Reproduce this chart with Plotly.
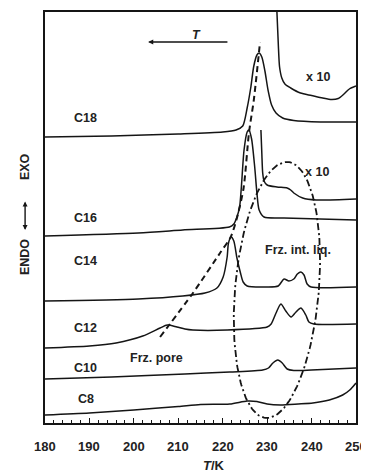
import numpy as np
import plotly.graph_objects as go

# ---- data (T in K, signal in arbitrary offset units) ----
c18_T = [180, 195, 210, 220, 223, 224.5, 225.5, 226.3, 227.0, 227.7, 228.2, 228.8, 229.5, 230.2, 231.0, 232.0, 233.5, 236, 242, 250]
c18_y = [286, 287, 289, 291, 293, 297, 315, 335, 357, 368, 370, 366, 352, 333, 318, 310, 305, 302.5, 301, 301]

c18x_T = [232.2, 232.5, 232.8, 233.3, 234.0, 235.3, 237.5, 240, 242.5, 244.5, 246, 247.3, 248.5, 250]
c18x_y = [411, 380, 356, 345, 339, 335, 330, 327.5, 325, 323.5, 324.5, 329, 334, 337]

c16_T = [180, 201, 211, 221.5, 222.5, 223.2, 223.8, 224.2, 224.8, 225.5, 225.9, 226.5, 227.2, 227.7, 228.2, 229.3, 233.8, 250]
c16_y = [187, 190, 193, 196, 199, 206, 216, 236, 273, 291, 293, 284, 256, 230, 213, 206, 205, 203]

c16x_T = [228.6, 228.8, 229.0, 229.3, 230.0, 232.2, 234.5, 235.3, 236, 238, 241, 250]
c16x_y = [293, 270, 250, 242, 238, 236, 235, 233, 230, 225, 223, 224]

c14_T = [180, 201, 211, 216, 218.7, 220.1, 221.0, 221.3, 221.9, 222.5, 223.2, 224.0, 224.6, 225.5, 230, 232.5, 233.8, 234.9, 236, 236.8, 237.6, 238.3, 239, 239.9, 250]
c14_y = [122, 124, 127, 130, 135, 146, 166, 180, 186, 182, 165, 150, 141, 137, 136, 137, 144, 142, 144, 149, 151, 148, 139, 136, 136]

c12_T = [180, 190, 196, 202, 205.9, 207.5, 209.7, 211.5, 213.3, 221, 230, 230.9, 232, 233.1, 234.2, 235.4, 236.5, 237.6, 238.7, 239.4, 240.5, 250]
c12_y = [75, 77, 80, 87, 95, 98, 96, 94, 93, 93, 96, 99, 110, 119, 112, 106, 111, 115, 108, 101, 99, 99]

c10_T = [180, 195, 211.5, 221.6, 229, 230.3, 231.3, 232.4, 233.4, 234.5, 236, 240, 250]
c10_y = [44, 46, 49, 51, 53, 55, 60, 63, 60, 54, 52.5, 53, 55]

c8_T = [180, 190, 200, 210, 215, 221.6, 225.5, 227.7, 230, 233, 237, 240.3, 244, 247, 248.6, 250]
c8_y = [8, 10, 13, 16.5, 18.5, 19, 22, 21.5, 19, 18, 19, 20, 23, 28, 33, 40]

pore_T = [205.9, 213.3, 219.4, 221.8, 223.2, 224.7, 225.9, 227.0, 228.4]
pore_y = [86, 130, 170, 186, 205, 235, 290, 323, 381]

labels = ["C18", "C16", "C14", "C12", "C10", "C8"]
label_y = [305, 205, 162, 95, 55, 24]

x_ticks = [180, 190, 200, 210, 220, 230, 240, 250]
x_tick_text = ["180", "190", "200", "210", "220", "230", "240", "250"]

# ellipse guide parameters (data units)
ell_cx, ell_cy, ell_a, ell_b, ell_shear = 232.2, 133, 9.45, 128, 2.25

FONT = "Liberation Sans"
LC = "#151515"
TC = "#222"

fig = go.Figure()

def add_line(x, y, width=1.5, dash=None, shape="spline", smooth=0.7):
    line = dict(color=LC, width=width, shape=shape)
    if shape == "spline":
        line["smoothing"] = smooth
    if dash:
        line["dash"] = dash
    fig.add_trace(go.Scatter(x=x, y=y, mode="lines", line=line,
                             hoverinfo="skip", showlegend=False))

for tx, ty in [(c18_T, c18_y), (c18x_T, c18x_y), (c16_T, c16_y), (c16x_T, c16x_y),
               (c14_T, c14_y), (c12_T, c12_y), (c10_T, c10_y), (c8_T, c8_y)]:
    add_line(tx, ty)

add_line(pore_T, pore_y, width=2, dash="6px,4px")

t = np.linspace(0, 2 * np.pi, 200)
ex = ell_cx + ell_a * np.cos(t) + ell_shear * np.sin(t)
ey = ell_cy + ell_b * np.sin(t)
add_line(ex, ey, width=1.8, dash="7px,3px,2px,3px", shape="linear")

def txt(x, y, s, size=12.5, **kw):
    d = dict(x=x, y=y, text="<b>%s</b>" % s, showarrow=False,
             xanchor="center", yanchor="middle",
             font=dict(size=size, family=FONT, color=TC))
    d.update(kw)
    return d

ann = []
for name, yy in zip(labels, label_y):
    ann.append(txt(189.2, yy, name))
# tick labels placed a little below the axis, as in the reference
for tv, tt in zip(x_ticks, x_tick_text):
    ann.append(txt(tv, -0.056, tt, size=13, yref="paper"))
ann += [
    txt(241.4, 346, "x 10"),
    txt(241.2, 251, "x 10"),
    txt(237.0, 173, "Frz. int. liq."),
    txt(205.0, 65, "Frz. pore"),
    txt(214.0, 381, "<i>T</i>", yanchor="bottom", yshift=-2),
    dict(x=203.2, y=381, ax=221.4, ay=381, axref="x", ayref="y", text="", showarrow=True,
         arrowhead=2, arrowsize=0.8, arrowwidth=1.3, arrowcolor=LC),
    # axis titles
    txt(0.545, -0.1046, "<i>T</i>/K", size=13, xref="paper", yref="paper"),
    txt(-0.064, 256, "EXO", size=12.5, xref="paper", textangle=-90),
    txt(-0.064, 166, "ENDO", size=12.5, xref="paper", textangle=-90),
    dict(x=-0.064, y=193, xref="paper", yref="y", ax=0, ay=-30, axref="pixel", ayref="pixel",
         text="", showarrow=True, arrowhead=2, arrowside="end+start", arrowsize=0.7,
         arrowwidth=1.4, arrowcolor=LC),
]

# page body has an 8px default margin, so the figure is sized/offset to compensate
fig.update_layout(
    width=361, height=464,
    margin=dict(l=37, r=13, t=4, b=49, autoexpand=False),
    paper_bgcolor="white", plot_bgcolor="white",
    annotations=ann,
    xaxis=dict(range=[180, 250], tickvals=x_ticks, ticks="inside", ticklen=5, tickwidth=1.3,
               tickcolor=LC, showline=True, linecolor=LC, linewidth=2, mirror=True,
               showgrid=False, zeroline=False, automargin=False, showticklabels=False,
               minor=dict(dtick=2, ticks="inside", ticklen=3, tickwidth=1.2, tickcolor=LC, showgrid=False)),
    yaxis=dict(range=[0, 411], showticklabels=False, ticks="", showline=True, linecolor=LC,
               linewidth=2, mirror=True, showgrid=False, zeroline=False, automargin=False),
)

fig.write_html("out.html")
